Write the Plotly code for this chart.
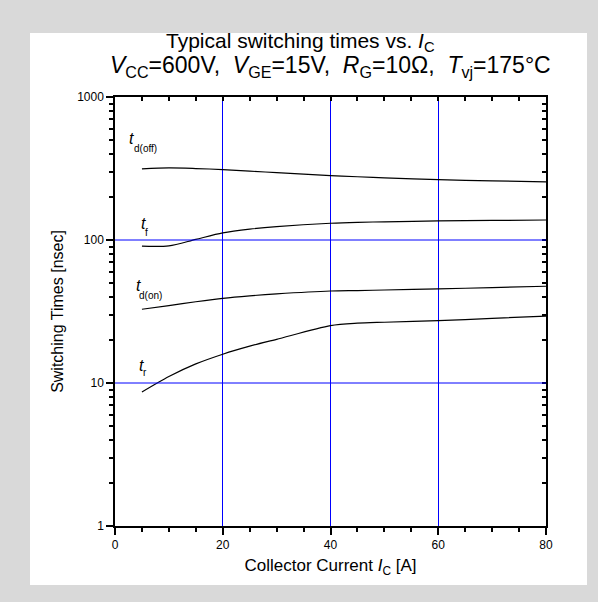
import math
import plotly.graph_objects as go

# Data
ic = [5, 10, 15, 20, 25, 30, 40, 45, 50, 60, 70, 80]
t_doff = [314, 319, 316, 311, 303, 296, 282, 277, 272, 264, 259, 255]
t_f = [90.5, 91, 101, 112, 119, 124, 131, 133, 134, 136, 137, 138]
t_don = [32.8, 34.8, 37, 39.1, 40.7, 42, 44, 44.3, 44.7, 45.5, 46.5, 47.5]
t_r = [8.65, 11.1, 13.6, 15.9, 18.1, 20.2, 25.2, 26.2, 26.6, 27.3, 28.3, 29.4]

# curve labels: "t" and its subscript
curve_subs = ["d(off)", "f", "d(on)", "r"]
t_label_x = [2.41, 4.73, 3.71, 4.18]
t_label_y = [513, 130.4, 47.7, 13.25]
sub_label_x = [3.28, 5.38, 4.27, 4.92]
sub_label_y = [436, 112.8, 41.2, 11.75]

x_ticks = [0, 20, 40, 60, 80]
x_minor_ticks = [5, 10, 15, 25, 30, 35, 45, 50, 55, 65, 70, 75]
y_ticks = [1, 10, 100, 1000]
y_minor_ticks = [d * m for d in (1, 10, 100) for m in range(2, 10)]

FONT = "Liberation Sans, Arial, sans-serif"
BLUE = "#0000ff"
W, H = 598, 602
L, R, T, B = 115, 52, 97, 76
pw = W - L - R
ph = H - T - B

def px2paper_x(px):
    return (px - L) / pw

def px2paper_y(py):
    return (H - B - py) / ph

fig = go.Figure()
for ys in [t_doff, t_f, t_don, t_r]:
    fig.add_trace(go.Scatter(x=ic, y=ys, mode="lines",
                             line=dict(color="black", width=1.2, shape="spline", smoothing=0.8),
                             showlegend=False, hoverinfo="skip"))
# invisible trace so the mirror (top/right) axes are drawn
fig.add_trace(go.Scatter(x=[40], y=[30], xaxis="x2", yaxis="y2", mode="markers",
                         marker=dict(opacity=0, size=1), showlegend=False, hoverinfo="skip"))

fig.update_layout(
    width=W, height=H,
    margin=dict(l=L, r=R, t=T, b=B, pad=0),
    paper_bgcolor="#d9d9d9",
    plot_bgcolor="white",
    font=dict(family=FONT, color="black", size=12),
    xaxis=dict(range=[0, 80], showline=True, linecolor="black", linewidth=1.5, zeroline=False,
               tickmode="array", tickvals=x_ticks, ticktext=[str(v) for v in x_ticks],
               ticks="outside", ticklen=7, tickwidth=1.5, tickcolor="black",
               minor=dict(tickmode="array", tickvals=x_minor_ticks, ticks="outside", ticklen=4,
                          tickwidth=1.5, tickcolor="black", showgrid=False),
               showgrid=True, gridcolor=BLUE, gridwidth=1,
               tickfont=dict(size=12),
               title=dict(text="Collector Current <i>I</i><sub>C</sub> [A]", font=dict(size=17), standoff=8)),
    yaxis=dict(type="log", range=[0, 3], showline=True, linecolor="black", linewidth=1.5, zeroline=False,
               tickmode="array", tickvals=y_ticks, ticktext=[str(v) for v in y_ticks],
               ticks="outside", ticklen=7, tickwidth=1.5, tickcolor="black",
               minor=dict(tickmode="array", tickvals=y_minor_ticks, ticks="outside", ticklen=4,
                          tickwidth=1.5, tickcolor="black", showgrid=False),
               showgrid=False,
               tickfont=dict(size=12),
               title=dict(text="Switching Times [nsec]", font=dict(size=16), standoff=10)),
    xaxis2=dict(range=[0, 80], showline=True, linecolor="black", linewidth=1.5, zeroline=False,
                overlaying="x", side="top", anchor="y", dtick=5, tick0=0,
                ticks="inside", ticklen=4, tickwidth=1.5, tickcolor="black",
                showticklabels=False, showgrid=False),
    yaxis2=dict(type="log", range=[0, 3], showline=True, linecolor="black", linewidth=1.5, zeroline=False,
                overlaying="y", side="right", anchor="x", dtick="D1",
                ticks="inside", ticklen=4, tickwidth=1.5, tickcolor="black",
                showticklabels=False, showgrid=False),
)

fig.add_shape(type="rect", xref="paper", yref="paper",
              x0=px2paper_x(30), x1=px2paper_x(587), y0=px2paper_y(585), y1=px2paper_y(33),
              fillcolor="white", line=dict(width=0), layer="below")

# horizontal grid lines at the inner decade ticks
for gv in y_ticks[1:-1]:
    fig.add_shape(type="line", xref="x domain", yref="y", x0=0, x1=1, y0=gv, y1=gv,
                  line=dict(color=BLUE, width=1), layer="above")

fig.add_annotation(xref="paper", yref="paper", x=px2paper_x(300), y=px2paper_y(42),
                   text="Typical switching times vs. <i>I</i><sub>C</sub>", showarrow=False,
                   font=dict(size=21, family=FONT), xanchor="center", yanchor="middle")
fig.add_annotation(xref="paper", yref="paper", x=px2paper_x(330), y=px2paper_y(67),
                   text="<i>V</i><sub>CC</sub>=600V,  <i>V</i><sub>GE</sub>=15V,  <i>R</i><sub>G</sub>=10Ω,  <i>T</i><sub>vj</sub>=175°C",
                   showarrow=False, font=dict(size=23, family=FONT), xanchor="center", yanchor="middle")

for sub, tx, ty, sx, sy in zip(curve_subs, t_label_x, t_label_y, sub_label_x, sub_label_y):
    fig.add_annotation(x=tx, y=math.log10(ty), xref="x", yref="y",
                       text="<i>t</i>", showarrow=False, borderpad=0,
                       font=dict(size=16, family=FONT), xanchor="left", yanchor="middle")
    fig.add_annotation(x=sx, y=math.log10(sy), xref="x", yref="y",
                       text=sub, showarrow=False, borderpad=0,
                       font=dict(size=10, family=FONT), xanchor="left", yanchor="middle")

fig.write_html("out.html", config={"displayModeBar": False},
               post_script="document.body.style.margin='0px';document.body.style.overflow='hidden';")
